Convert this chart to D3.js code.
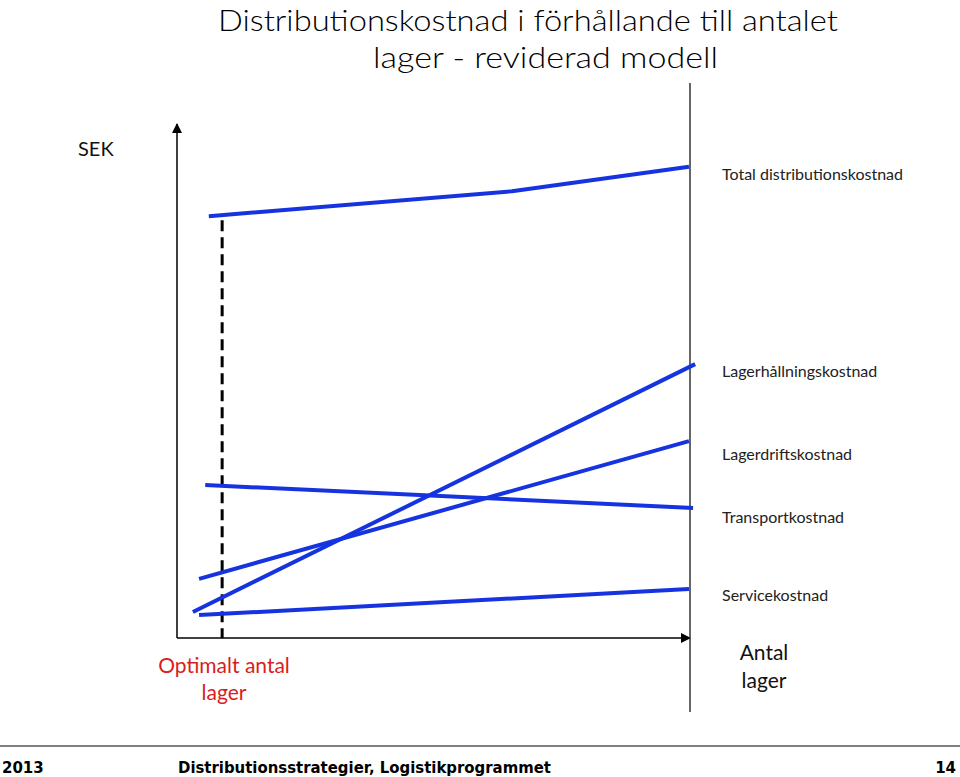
<!DOCTYPE html>
<html><head><meta charset="utf-8">
<script src="https://cdn.jsdelivr.net/npm/d3@7/dist/d3.min.js"></script>
<style>body{margin:0;background:#fff}svg{display:block}</style>
</head><body>
<script>
// Data (x = number of warehouses in relative units 0-100, y = SEK relative 0-100)
const seriesNames = ["Total distributionskostnad","Lagerhållningskostnad","Lagerdriftskostnad","Transportkostnad","Servicekostnad"];
const totalX = [6.2, 65.3, 99.8];
const totalY = [82.7, 87.6, 92.4];
const lagerhallX = [3.1, 101.0];
const lagerhallY = [5.1, 53.7];
const lagerdriftX = [4.3, 99.8];
const lagerdriftY = [11.6, 38.6];
const transportX = [5.5, 100.6];
const transportY = [30.0, 25.5];
const serviceX = [4.3, 99.8];
const serviceY = [4.5, 9.6];
const optimumX = 8.8;
const labelYs = [91.5, 53.0, 36.7, 24.3, 9.0];

const W = 960, H = 777;
const svg = d3.select("body").append("svg").attr("width", W).attr("height", H);
const x = d3.scaleLinear().domain([0, 100]).range([177, 690]);
const y = d3.scaleLinear().domain([0, 100]).range([638, 128]);

const calibri = "Lato, 'Open Sans', sans-serif";

// Title
const t = svg.append("g").attr("font-family", calibri).attr("fill", "#000").attr("font-weight", 300);
t.append("text").attr("x", 218).attr("y", 31).attr("font-size", 30)
  .attr("textLength", 620).attr("lengthAdjust", "spacingAndGlyphs")
  .text("Distributionskostnad i förhållande till antalet");
t.append("text").attr("x", 373).attr("y", 68).attr("font-size", 30)
  .attr("textLength", 345).attr("lengthAdjust", "spacingAndGlyphs")
  .text("lager - reviderad modell");

// Axes
svg.append("defs").append("marker").attr("id", "arr").attr("viewBox", "0 0 10 10")
  .attr("refX", 9).attr("refY", 5).attr("markerWidth", 10).attr("markerHeight", 10)
  .attr("markerUnits", "userSpaceOnUse").attr("orient", "auto")
  .append("path").attr("d", "M0,0L10,5L0,10Z").attr("fill", "#000");

svg.append("line").attr("x1", x(0)).attr("y1", y(0)).attr("x2", x(0)).attr("y2", 124)
  .attr("stroke", "#000").attr("stroke-width", 1.5).attr("marker-end", "url(#arr)");
svg.append("line").attr("x1", x(0)).attr("y1", y(0)).attr("x2", x(100)).attr("y2", y(0))
  .attr("stroke", "#000").attr("stroke-width", 1.5).attr("marker-end", "url(#arr)");
// right vertical divider
svg.append("line").attr("x1", x(100)).attr("y1", 83).attr("x2", x(100)).attr("y2", 712)
  .attr("stroke", "#333").attr("stroke-width", 1.5);

// optimum dashed line
svg.append("line").attr("x1", x(optimumX)).attr("y1", y(totalY[0]) + 4)
  .attr("x2", x(optimumX)).attr("y2", y(0))
  .attr("stroke", "#000").attr("stroke-width", 3).attr("stroke-dasharray", "11,6");

// Series lines
const line = d3.line().x(d => x(d[0])).y(d => y(d[1]));
const seriesData = [
  d3.zip(totalX, totalY), d3.zip(lagerhallX, lagerhallY), d3.zip(lagerdriftX, lagerdriftY),
  d3.zip(transportX, transportY), d3.zip(serviceX, serviceY)
];
svg.append("g").selectAll("path").data(seriesData).join("path")
  .attr("d", line).attr("fill", "none").attr("stroke", "#1633e0").attr("stroke-width", 4);

// Series labels
svg.append("g").attr("font-family", calibri).attr("font-size", 16).attr("fill", "#222")
  .selectAll("text").data(seriesNames).join("text")
  .attr("x", 722).attr("y", (d, i) => y(labelYs[i]) + 9).text(d => d);

// SEK
svg.append("text").attr("x", 78).attr("y", 156).attr("font-family", calibri)
  .attr("font-size", 20).attr("fill", "#111").text("SEK");

// Optimalt antal lager
const opt = svg.append("g").attr("font-family", calibri).attr("font-size", 21)
  .attr("fill", "#d81e1e").attr("text-anchor", "middle");
opt.append("text").attr("x", 224).attr("y", 673).text("Optimalt antal");
opt.append("text").attr("x", 224).attr("y", 700).text("lager");

const ax = svg.append("g").attr("font-family", calibri).attr("font-size", 21)
  .attr("fill", "#111").attr("text-anchor", "middle");
ax.append("text").attr("x", 764).attr("y", 660).text("Antal");
ax.append("text").attr("x", 764).attr("y", 688).text("lager");

// Footer
svg.append("line").attr("x1", 0).attr("x2", W).attr("y1", 746).attr("y2", 746)
  .attr("stroke", "#000").attr("stroke-width", 1);
const f = svg.append("g").attr("font-family", "'DejaVu Sans', Verdana, sans-serif")
  .attr("font-weight", "bold").attr("font-size", 15).attr("fill", "#000");
f.append("text").attr("x", 2).attr("y", 773).text("2013");
f.append("text").attr("x", 178).attr("y", 773).attr("textLength", 373)
  .attr("lengthAdjust", "spacingAndGlyphs").text("Distributionsstrategier, Logistikprogrammet");
f.append("text").attr("x", 956).attr("y", 773).attr("text-anchor", "end").text("14");
</script>
</body></html>
